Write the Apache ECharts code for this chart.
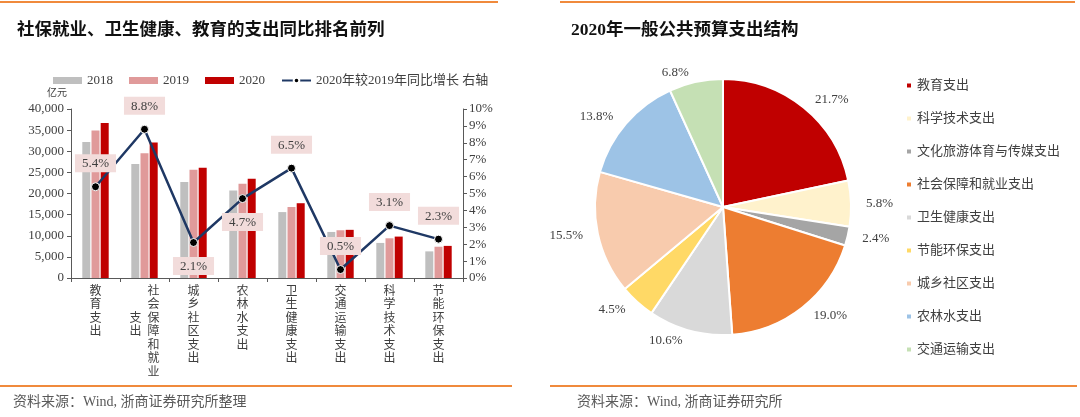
<!DOCTYPE html>
<html><head><meta charset="utf-8">
<script src="https://cdn.jsdelivr.net/npm/echarts@6/dist/echarts.min.js"></script>
<style>html,body{margin:0;padding:0;background:#fff}#c{width:1080px;height:417px}</style>
</head><body><div id="c"></div>
<script>
var categories = ['教育支出','社会保障和就业支出','城乡社区支出','农林水支出','卫生健康支出','交通运输支出','科学技术支出','节能环保支出'];
var s2018 = [32200, 27000, 22700, 20700, 15600, 10900, 8300, 6300];
var s2019 = [34900, 29500, 25600, 22300, 16800, 11300, 9400, 7400];
var s2020 = [36700, 32100, 26100, 23500, 17700, 11400, 9800, 7600];
var growth = [5.4, 8.8, 2.1, 4.7, 6.5, 0.5, 3.1, 2.3];
var growthLabelPos = ['top','top','bottom','bottom','top','top','top','top'];
var pieNames = ['教育支出','科学技术支出','文化旅游体育与传媒支出','社会保障和就业支出','卫生健康支出','节能环保支出','城乡社区支出','农林水支出','交通运输支出'];
var pieShares = [21.7, 5.8, 2.4, 19.0, 10.6, 4.5, 15.5, 13.8, 6.8];
var pieColors = ['#C00000','#FFF2CC','#A5A5A5','#ED7D31','#D9D9D9','#FFD966','#F8CBAD','#9DC3E6','#C5E0B4'];

var serif = '"Liberation Serif","Noto Sans CJK SC",serif';
var cjk = '"Liberation Serif","Noto Sans CJK SC",sans-serif';
var txt = '#404040';

function catLabel(name){
  var chars = name.split('');
  if (chars.length <= 7) return chars.join('\n');
  var main = chars.slice(0,7), extra = chars.slice(7);
  var rows = [];
  for (var i=0;i<7;i++){
    var e = (i>=2 && i-2<extra.length) ? extra[i-2] : '\u3000';
    rows.push(e + '  ' + main[i]);
  }
  return rows.join('\n');
}

var chart = echarts.init(document.getElementById('c'));
var option = {
  backgroundColor:'#fff',
  animation:false,
  title:[
    {text:'社保就业、卫生健康、教育的支出同比排名前列', left:12, top:17, textStyle:{fontFamily:cjk, fontSize:17.5, fontWeight:'bold', color:'#111'}},
    {text:'2020年一般公共预算支出结构', left:566, top:17, textStyle:{fontFamily:cjk, fontSize:17.5, fontWeight:'bold', color:'#111'}}
  ],
  graphic:[
    {type:'line', shape:{x1:0,y1:2,x2:498,y2:2}, style:{stroke:'#F08A3C', lineWidth:2}},
    {type:'line', shape:{x1:560,y1:2,x2:1075,y2:2}, style:{stroke:'#F08A3C', lineWidth:2}},
    {type:'line', shape:{x1:0,y1:386,x2:512,y2:386}, style:{stroke:'#F08A3C', lineWidth:2}},
    {type:'line', shape:{x1:550,y1:386,x2:1077,y2:386}, style:{stroke:'#F08A3C', lineWidth:2}},
    {type:'text', left:13, top:395, style:{text:'资料来源：Wind, 浙商证券研究所整理', font:'14px '+cjk, fill:'#595959'}},
    {type:'text', left:577, top:395, style:{text:'资料来源：Wind, 浙商证券研究所', font:'14px '+cjk, fill:'#595959'}}
  ],
  legend:[
    {left:48, top:69, itemWidth:29, itemHeight:7, itemGap:16,
     data:[{name:'2018',icon:'rect'},{name:'2019',icon:'rect'},{name:'2020',icon:'rect'},{name:'2020年较2019年同比增长 右轴'}],
     textStyle:{fontFamily:serif, fontSize:13, color:txt}},
    {orient:'vertical', left:900, top:74, itemWidth:6, itemHeight:6, itemGap:20, icon:'rect',
     data:pieNames, textStyle:{fontFamily:cjk, fontSize:13, color:txt}}
  ],
  grid:{left:71, top:109, width:392, height:169},
  xAxis:{type:'category', data:categories, boundaryGap:true,
    axisLine:{lineStyle:{color:'#595959'}},
    axisTick:{show:true, alignWithLabel:false, length:4, lineStyle:{color:'#595959'}},
    axisLabel:{interval:0, fontFamily:cjk, fontSize:12, lineHeight:13.5, color:txt, margin:7, formatter:catLabel}},
  yAxis:[
    {type:'value', min:0, max:40000, interval:5000, position:'left',
     name:'亿元', nameLocation:'end', nameGap:11, nameTextStyle:{fontFamily:cjk, fontSize:10, color:txt, align:'right', padding:[0,4,0,0]},
     axisLine:{show:true, lineStyle:{color:'#595959'}}, axisTick:{show:true, length:4, lineStyle:{color:'#595959'}},
     splitLine:{show:false},
     axisLabel:{fontFamily:serif, fontSize:13, color:txt, margin:7, formatter:function(v){return v.toLocaleString('en-US');}}},
    {type:'value', min:0, max:10, interval:1, position:'right',
     axisLine:{show:true, lineStyle:{color:'#595959'}}, axisTick:{show:true, length:4, lineStyle:{color:'#595959'}},
     splitLine:{show:false},
     axisLabel:{fontFamily:serif, fontSize:13, color:txt, margin:6, formatter:'{value}%'}}
  ],
  series:[
    {name:'2018', type:'bar', data:s2018, barWidth:8, barGap:'15%', itemStyle:{color:'#BFBFBF'}},
    {name:'2019', type:'bar', data:s2019, barWidth:8, barGap:'15%', itemStyle:{color:'#E09A9A'}},
    {name:'2020', type:'bar', data:s2020, barWidth:8, barGap:'15%', itemStyle:{color:'#C00000'}},
    {name:'2020年较2019年同比增长 右轴', type:'line', yAxisIndex:1, data:growth.map(function(v,i){
        return {value:v, label:{position:growthLabelPos[i]}};
      }),
     lineStyle:{color:'#1F3864', width:2.5}, itemStyle:{color:'#000', borderColor:'#fff', borderWidth:1},
     symbol:'circle', symbolSize:8,
     label:{show:true, distance:10, formatter:'{c}%', fontFamily:serif, fontSize:13, color:txt, backgroundColor:'#F2DCDB', padding:[3,7,2,7]}},
    {name:'结构', type:'pie', center:[723,207], radius:128, startAngle:90, clockwise:true,
     data:pieNames.map(function(n,i){return {name:n, value:pieShares[i], itemStyle:{color:pieColors[i]}};}),
     itemStyle:{borderColor:'#fff', borderWidth:2},
     label:{show:true, position:'outside', formatter:function(p){ return p.value.toFixed(1)+'%'; }, fontFamily:serif, fontSize:13, color:txt},
     labelLine:{show:false, length:10, length2:0}}
  ]
};
chart.setOption(option);
</script></body></html>
